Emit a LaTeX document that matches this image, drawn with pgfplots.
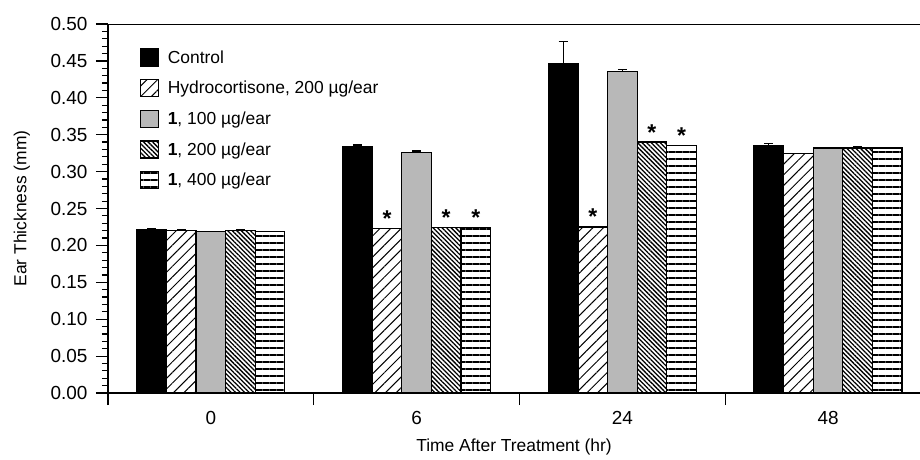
\documentclass[border=0pt]{standalone}
\usepackage{fontspec}
\setmainfont{Liberation Sans}
\usepackage{pgfplots}
\usepackage{pgfplotstable}
\pgfplotsset{compat=1.18}
\usetikzlibrary{patterns.meta}

% x = group (0, 6, 24, 48 hr), y = ear thickness, e = SEM (upward), s = significance mark
\pgfplotstableread{
x y e s
0 0.221 0.002 {}
1 0.334 0.002 {}
2 0.447 0.029 {}
3 0.335 0.003 {}
}\ctrl
\pgfplotstableread{
x y e s
0 0.220 0.002 {}
1 0.223 0.000 *
2 0.225 0.000 *
3 0.325 0.000 {}
}\hydro
\pgfplotstableread{
x y e s
0 0.219 0.000 {}
1 0.326 0.002 {}
2 0.436 0.002 {}
3 0.332 0.000 {}
}\cpdA
\pgfplotstableread{
x y e s
0 0.220 0.002 {}
1 0.224 0.000 *
2 0.340 0.000 *
3 0.332 0.002 {}
}\cpdB
\pgfplotstableread{
x y e s
0 0.219 0.000 {}
1 0.224 0.000 *
2 0.335 0.000 *
3 0.332 0.000 {}
}\cpdC

\newcommand{\txt}{\fontsize{17.5}{20}\selectfont}
\newcommand{\tck}{\fontsize{19}{22}\selectfont}

\begin{document}
\begin{tikzpicture}
\begin{axis}[
  scale only axis,
  width=812bp, height=369bp,
  xmin=-0.5, xmax=3.447,
  ymin=0, ymax=0.5,
  axis x line*=bottom, axis y line*=left,
  axis line style={-, line width=1.2bp},
  tick align=outside,
  major tick length=12bp, minor tick length=6bp,
  every tick/.style={black, line width=1.2bp},
  minor y tick num=4,
  ytick={0,0.05,...,0.5},
  yticklabel style={font=\tck, anchor=east, xshift=-5bp,
    /pgf/number format/fixed, /pgf/number format/fixed zerofill,
    /pgf/number format/precision=2, /pgf/number format/assume math mode=true},
  xtick={-0.5,0.5,1.5,2.5},
  xticklabels={,,,},
  extra x ticks={0,1,2,3},
  extra x tick labels={0,6,24,48},
  extra x tick style={major tick length=0pt, xticklabel style={font=\tck, anchor=base, yshift=-31bp}},
  xlabel={Time After Treatment (hr)},
  ylabel={Ear Thickness (mm)},
  xlabel style={font=\txt, at={(axis description cs:0.5,0)}, anchor=base, yshift=-58bp},
  ylabel style={font=\txt, at={(axis description cs:-0.106,0.5)}, anchor=center},
  ybar=0pt, bar width=29.6bp,
  every axis plot/.append style={draw=black, line width=1.2bp},
  error bars/y dir=plus, error bars/y explicit,
  error bars/error bar style={line width=1.2bp, black},
  error bars/error mark options={rotate=90, mark size=4.5bp, line width=1.2bp, black},
  sq/.style={legend image code/.code={\draw[##1, line width=1.2bp] (0bp,-8.5bp) rectangle (18bp,8.5bp);}},
  star/.style={point meta=explicit symbolic, nodes near coords,
    every node near coord/.append style={font=\fontsize{23}{23}\bfseries\selectfont, anchor=base, inner sep=0pt, yshift=2bp}},
  legend style={at={(axis description cs:0.035,0.94)}, anchor=north west, draw=none, fill=none,
    font=\txt, row sep=12.5bp, cells={anchor=west},
    /tikz/every odd column/.append style={column sep=7bp}},
]
\addplot[fill=black, sq] table[x=x, y=y, y error=e] {\ctrl};
\addplot[fill=white, pattern={Lines[angle=45, distance=7.5bp, line width=1bp]}, sq, star] table[x=x, y=y, y error=e, meta=s] {\hydro};
\addplot[fill=black!28, sq] table[x=x, y=y, y error=e] {\cpdA};
\addplot[pattern={Lines[angle=-45, distance=3.2bp, line width=1.3bp]}, sq, star] table[x=x, y=y, y error=e, meta=s] {\cpdB};
\addplot[pattern={Lines[angle=0, distance=7bp, line width=1.7bp]}, sq, star] table[x=x, y=y, y error=e, meta=s] {\cpdC};
\legend{Control, {Hydrocortisone, 200 µg/ear}, {\textbf{1}, 100 µg/ear}, {\textbf{1}, 200 µg/ear}, {\textbf{1}, 400 µg/ear}}
\draw[line width=1.2bp] (rel axis cs:0,1) -- (rel axis cs:1,1);
\end{axis}
\pgfresetboundingbox
\path (-108bp,-67bp) rectangle (812bp,393bp);
\end{tikzpicture}
\end{document}
